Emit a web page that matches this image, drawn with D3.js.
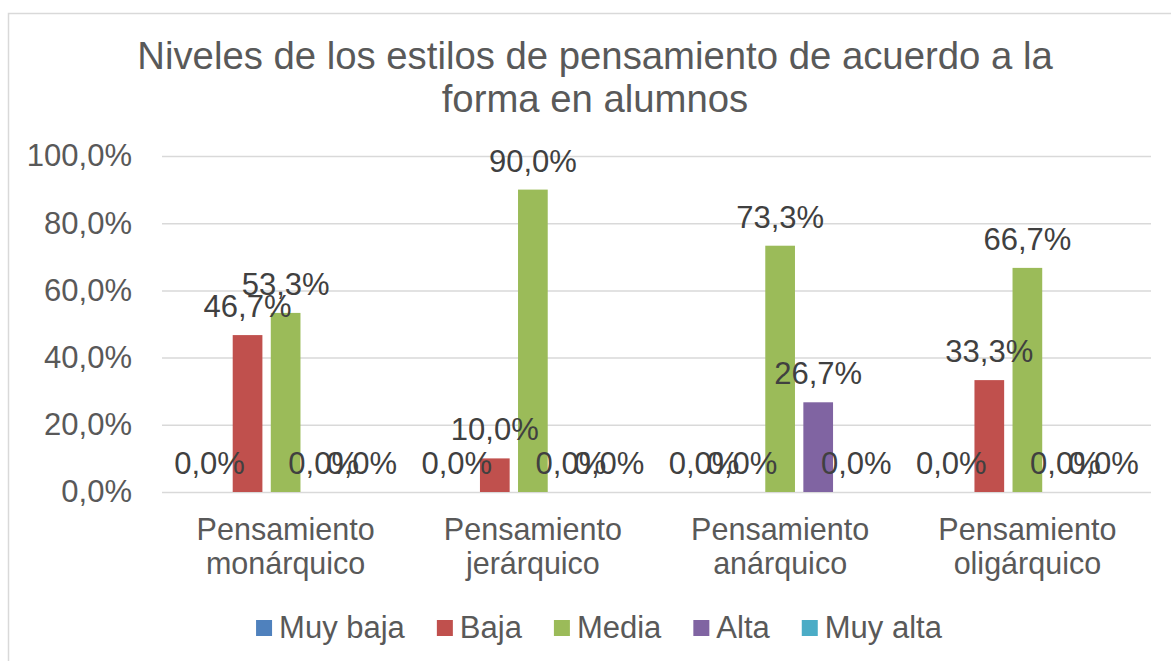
<html>
<head>
<meta http-equiv="Content-Type" content="text/html; charset=UTF-8" />
<script src="https://cdn.jsdelivr.net/npm/d3@7"></script>
<style>
  body { margin: 0; background: #fff; }
  text { font-family: "Liberation Sans", Arial, sans-serif; fill: #595959; }
</style>
</head>
<body>
<svg id="chart" width="1171" height="661"></svg>
<script>
var categories = [["Pensamiento", "monárquico"], ["Pensamiento", "jerárquico"], ["Pensamiento", "anárquico"], ["Pensamiento", "oligárquico"]];
var seriesNames = ["Muy baja", "Baja", "Media", "Alta", "Muy alta"];
var seriesColors = ["#4F81BD", "#C0504D", "#9BBB59", "#8064A2", "#4BACC6"];
var muyBaja = [0, 0, 0, 0];
var baja = [46.7, 10.0, 0, 33.3];
var media = [53.3, 90.0, 73.3, 66.7];
var alta = [0, 0, 26.7, 0];
var muyAlta = [0, 0, 0, 0];
var yTicks = [0, 20, 40, 60, 80, 100];
var titleLines = ["Niveles de los estilos de pensamiento de acuerdo a la", "forma en alumnos"];

(function() {
    var values = [muyBaja, baja, media, alta, muyAlta];

    var svg = d3.select("#chart");
    var fmt = function(v) { return v.toFixed(1).replace(".", ",") + "%"; };

    // outer chart border (runs off the right and bottom of the picture)
    svg.append("rect")
        .attr("x", 8.5).attr("y", 13.5)
        .attr("width", 1200).attr("height", 700)
        .attr("fill", "none")
        .attr("stroke", "#D9D9D9")
        .attr("stroke-width", 1.5);

    var plotLeft = 162, plotRight = 1151, plotTop = 156, plotBottom = 492;

    var x0 = d3.scaleBand()
        .domain(d3.range(categories.length))
        .range([plotLeft, plotRight])
        .paddingInner(0.264)
        .paddingOuter(0.132);

    var x1 = d3.scaleBand()
        .domain(d3.range(seriesNames.length))
        .range([0, x0.bandwidth()])
        .paddingInner(0.22);

    var y = d3.scaleLinear().domain([0, 100]).range([plotBottom, plotTop]);

    // gridlines
    svg.append("g")
        .attr("transform", "translate(" + plotLeft + ",0)")
        .call(d3.axisLeft(y).tickValues(yTicks).tickSize(-(plotRight - plotLeft)).tickFormat(""))
        .call(function(g) { g.select(".domain").remove(); })
        .call(function(g) { g.selectAll("line").attr("stroke", "#D9D9D9").attr("stroke-width", 1.5); });

    // y labels
    svg.append("g")
        .attr("transform", "translate(" + plotLeft + ",0)")
        .call(d3.axisLeft(y).tickValues(yTicks).tickSize(0).tickPadding(30).tickFormat(fmt))
        .call(function(g) { g.select(".domain").remove(); })
        .call(function(g) {
            g.selectAll("text")
                .attr("fill", null)
                .style("font-size", "31px")
                .style("font-family", "Liberation Sans, Arial, sans-serif");
        });

    // bars
    var groups = svg.append("g").selectAll("g")
        .data(categories)
        .join("g")
        .attr("transform", function(d, i) { return "translate(" + x0(i) + ",0)"; });

    groups.selectAll("rect")
        .data(function(d, i) { return values.map(function(s, k) { return { k: k, v: s[i] }; }); })
        .join("rect")
        .attr("x", function(d) { return x1(d.k); })
        .attr("y", function(d) { return y(d.v); })
        .attr("width", x1.bandwidth())
        .attr("height", function(d) { return y(0) - y(d.v); })
        .attr("fill", function(d) { return seriesColors[d.k]; });

    groups.selectAll("text.lbl")
        .data(function(d, i) { return values.map(function(s, k) { return { k: k, v: s[i] }; }); })
        .join("text")
        .attr("class", "lbl")
        .attr("x", function(d) { return x1(d.k) + x1.bandwidth() / 2; })
        .attr("y", function(d) { return y(d.v) - 18; })
        .attr("text-anchor", "middle")
        .style("font-size", "31px")
        .style("fill", "#404040")
        .text(function(d) { return fmt(d.v); });

    // category labels
    var cat = svg.append("g").selectAll("text")
        .data(categories)
        .join("text")
        .attr("text-anchor", "middle")
        .style("font-size", "30.5px")
        .attr("transform", function(d, i) { return "translate(" + (x0(i) + x0.bandwidth() / 2) + ",540)"; });

    cat.selectAll("tspan")
        .data(function(d) { return d; })
        .join("tspan")
        .attr("x", 0)
        .attr("y", function(d, i) { return i * 34; })
        .text(function(d) { return d; });

    // title
    svg.append("g").selectAll("text")
        .data(titleLines)
        .join("text")
        .attr("x", 595)
        .attr("y", function(d, i) { return 69 + i * 43; })
        .attr("text-anchor", "middle")
        .style("font-size", "38.3px")
        .text(function(d) { return d; });

    // legend
    var legend = svg.append("g");
    var lx = 0;
    var items = legend.selectAll("g")
        .data(seriesNames)
        .join("g");

    items.append("rect")
        .attr("y", -18)
        .attr("width", 16).attr("height", 16)
        .attr("fill", function(d, i) { return seriesColors[i]; });

    items.append("text")
        .attr("x", 23)
        .style("font-size", "31px")
        .text(function(d) { return d; });

    items.each(function() {
        var g = d3.select(this);
        g.attr("transform", "translate(" + lx + ",0)");
        lx += 23 + g.select("text").node().getComputedTextLength() + 32;
    });
    lx -= 32;
    legend.attr("transform", "translate(" + (599 - lx / 2) + ",638)");
})();
</script>
</body>
</html>
